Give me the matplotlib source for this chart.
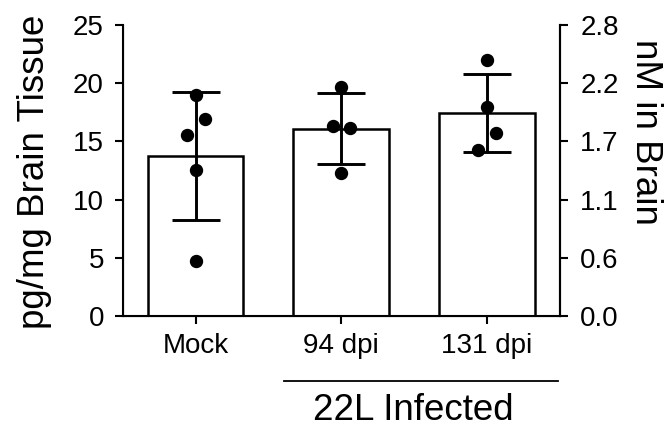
import matplotlib
matplotlib.use("Agg")
import matplotlib.pyplot as plt
import numpy as np

plt.rcParams['font.family'] = ['Liberation Sans', 'DejaVu Sans']

categories = ["Mock", "94 dpi", "131 dpi"]
means = [13.75, 16.1, 17.45]
sds = [5.5, 3.03, 3.35]
points = [
    [18.96, 16.9, 15.58, 12.51, 4.75],
    [19.7, 16.32, 16.15, 12.31],
    [21.99, 17.93, 15.75, 14.29],
]
point_offsets = [
    [0.0, 0.062, -0.062, 0.0, 0.0],
    [0.0, -0.06, 0.06, 0.0],
    [0.0, 0.0, 0.062, -0.06],
]
left_ticks = [0, 5, 10, 15, 20, 25]
right_max = 2.8
group_label = "22L Infected"

fig = plt.figure(figsize=(6.65, 4.28), dpi=100)
ax = fig.add_axes([0.1845, 0.2617, 0.8421 - 0.1845, 0.9416 - 0.2617])
x = np.arange(len(categories))
ax.bar(x, means, width=0.657, color='white', edgecolor='black', linewidth=1.8, zorder=1)
ax.errorbar(x, means, yerr=sds, fmt='none', ecolor='black', elinewidth=2.1,
            capsize=17.5, capthick=2.1, zorder=2)
for i, (pts, offs) in enumerate(zip(points, point_offsets)):
    ax.plot(np.array(offs) + i, pts, 'o', color='black', markersize=8.6, zorder=3)

ax.set_xlim(-0.5, 2.5)
ax.set_ylim(0, 25)
ax.set_yticks(left_ticks)
ax.set_xticks(x)
ax.set_xticklabels(categories, fontsize=20)
ax.tick_params(axis='y', labelsize=20, width=1.5, length=5.5, direction='out', pad=8)
ax.tick_params(axis='x', width=1.5, length=5.5, pad=7)
ax.spines['top'].set_visible(False)
for s in ['left', 'bottom', 'right']:
    ax.spines[s].set_linewidth(1.5)

ax2 = ax.twinx()
ax2.set_ylim(0, right_max)
rt = np.linspace(0, right_max, 6)
ax2.set_yticks(rt)
ax2.set_yticklabels([f"{v:.1f}" for v in rt])
ax2.tick_params(axis='y', labelsize=20, width=1.5, length=5.5, direction='out', pad=9)
ax2.spines['top'].set_visible(False)
ax2.spines['right'].set_linewidth(1.5)

fig.text(35 / 665, 1 - 171.5 / 428, "pg/mg Brain Tissue", rotation=90,
         ha='center', va='center', fontsize=26.5)
fig.text(645 / 665, 1 - 132 / 428, "nM in Brain", rotation=270,
         ha='center', va='center', fontsize=26.5)

# group annotation
fig.add_artist(plt.Line2D([284 / 665, 558 / 665], [1 - 381 / 428, 1 - 381 / 428],
                          color='black', linewidth=1.3))
fig.text(413 / 665, 1 - 420 / 428, group_label, ha='center', va='baseline', fontsize=26.5)

fig.savefig("out.png", dpi=100)
